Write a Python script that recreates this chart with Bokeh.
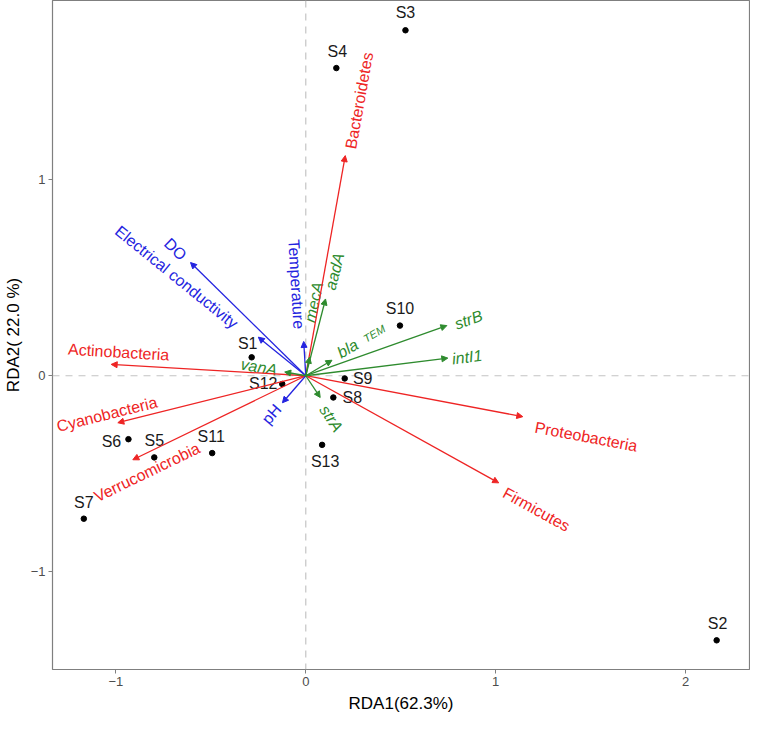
import math
from bokeh.plotting import figure
from bokeh.models import ColumnDataSource, Arrow, NormalHead, Range1d, FixedTicker, Span
from bokeh.embed import file_html
from bokeh.resources import INLINE
from bokeh.core.properties import value

# ---- data ----
samples = ["S1", "S2", "S3", "S4", "S5", "S6", "S7", "S8", "S9", "S10", "S11", "S12", "S13"]
sample_x = [-0.285, 2.164, 0.525, 0.161, -0.798, -0.934, -1.169, 0.145, 0.205, 0.496, -0.493, -0.124, 0.086]
sample_y = [0.094, -1.351, 1.764, 1.571, -0.417, -0.324, -0.730, -0.111, -0.014, 0.256, -0.395, -0.042, -0.353]

phyla = ["Actinobacteria", "Bacteroidetes", "Cyanobacteria", "Firmicutes", "Proteobacteria", "Verrucomicrobia"]
phyla_x = [-1.025, 0.208, -0.990, 1.016, 1.143, -0.911]
phyla_y = [0.058, 1.124, -0.240, -0.547, -0.209, -0.429]

genes = ["vanA", "strA", "mecA", "aadA", "strB", "intI1", "bla"]
genes_x = [-0.111, 0.076, 0.020, 0.104, 0.743, 0.748, 0.138]
genes_y = [0.019, -0.111, 0.095, 0.392, 0.256, 0.090, 0.079]

env = ["Temperature", "pH", "Electrical conductivity", "DO"]
env_x = [-0.011, -0.123, -0.250, -0.607]
env_y = [0.175, -0.138, 0.197, 0.578]

x_ticks = [-1, 0, 1, 2]
y_ticks = [-1, 0, 1]
x_title = "RDA1(62.3%)"
y_title = "RDA2( 22.0 %)"

# ---- label nudges (pixels, screen: +x right, +y down) ----
sample_dx = [-4, 1, 0, 1, 0, -17, 0, 19, 18, 0, -1, -19, 3]
sample_dy = [-14, -17, -18, -17, -17, 2, -16, 0, 0, -17, -17, 0, 17]
phyla_dx = [7.5, 14, -10.8, 37.7, 63.4, 14.2]
phyla_dy = [-12.3, -55, -8.5, 26.7, 20, 12.5]
genes_dx = [-25.8, 11, 4.2, 9, 21.6, 19.3, 15.7]
genes_dy = [-5, 21, -55, -27.5, -5.8, -1, -11.7]
env_dx = [-7.3, -11, -81.7, -15]
env_dy = [-57.3, 11.5, -60, -13.4]

RED = "#EE2424"
BLUE = "#2424E0"
GREEN = "#2E8B2E"
FONT = "Liberation Sans"

X0, X1 = -1.334, 2.337
Y0, Y1 = -1.50, 1.916
W, H = 750, 715
ML, MR, MT, MB = 46, 1, 0, 42
FW, FH = W - ML - MR, H - MT - MB
sx = FW / (X1 - X0)
sy = FH / (Y1 - Y0)

p = figure(width=W, height=H, output_backend="svg", toolbar_location=None,
           x_range=Range1d(X0, X1), y_range=Range1d(Y0, Y1),
           min_border_left=ML, min_border_right=MR, min_border_top=MT, min_border_bottom=MB)
p.background_fill_color = "white"
p.border_fill_color = "white"
p.outline_line_color = "#7F7F7F"
p.outline_line_width = 1.2
p.xgrid.visible = False
p.ygrid.visible = False

for ax, ticks, title in ((p.xaxis[0], x_ticks, x_title), (p.yaxis[0], y_ticks, y_title)):
    ax.ticker = FixedTicker(ticks=ticks)
    ax.major_label_overrides = {t: (("\u2212" + str(abs(t))) if t < 0 else str(t)) for t in ticks}
    ax.axis_line_color = None
    ax.major_tick_in = 0
    ax.major_tick_out = 4
    ax.major_tick_line_color = "#7F7F7F"
    ax.minor_tick_line_color = None
    ax.major_label_text_color = "#4D4D4D"
    ax.major_label_text_font = FONT
    ax.major_label_text_font_size = "13px"
    ax.major_label_standoff = 3
    ax.axis_label = title
    ax.axis_label_text_font = FONT
    ax.axis_label_text_font_size = "17px"
    ax.axis_label_text_font_style = "normal"
    ax.axis_label_text_color = "black"
    ax.axis_label_standoff = 5
p.yaxis[0].major_label_orientation = "horizontal"

for dim in ("width", "height"):
    p.add_layout(Span(location=0, dimension=dim, line_color="#C4C4C4", line_width=1.2,
                      line_dash="7 6", level="underlay"))


def screen_angle(dx, dy):
    a = math.atan2(dy * sy, dx * sx)
    if dx < 0:
        a += math.pi
    if a > math.pi:
        a -= 2 * math.pi
    return a


def draw_vectors(names, xs, ys, dxs, dys, color, style):
    src = ColumnDataSource(dict(x0=[0.0] * len(xs), y0=[0.0] * len(xs), x1=xs, y1=ys))
    p.add_layout(Arrow(source=src, x_start="x0", y_start="y0", x_end="x1", y_end="y1",
                       line_color=color, line_width=1.3,
                       end=NormalHead(size=6, fill_color=color, line_color=color, line_width=1)))
    lab = ColumnDataSource(dict(x=xs, y=ys, t=names,
                                a=[screen_angle(a, b) for a, b in zip(xs, ys)],
                                ox=dxs, oy=dys))
    p.text(x="x", y="y", text="t", angle="a", x_offset="ox", y_offset="oy", source=lab,
           text_align="center", text_baseline="middle", text_color=color,
           text_font=value(FONT), text_font_size="16px", text_font_style=style)
    return lab


draw_vectors(phyla, phyla_x, phyla_y, phyla_dx, phyla_dy, RED, "normal")
draw_vectors(env, env_x, env_y, env_dx, env_dy, BLUE, "normal")
draw_vectors(genes, genes_x, genes_y, genes_dx, genes_dy, GREEN, "italic")

# subscript of bla (TEM)
bi = genes.index("bla")
tem = ColumnDataSource(dict(x=[genes_x[bi]], y=[genes_y[bi]], t=["TEM"],
                            a=[screen_angle(genes_x[bi], genes_y[bi])], ox=[42.3], oy=[-26.7]))
p.text(x="x", y="y", text="t", angle="a", x_offset="ox", y_offset="oy", source=tem,
       text_align="center", text_baseline="middle", text_color=GREEN,
       text_font=value(FONT), text_font_size="11px", text_font_style="italic")

# sample points
ssrc = ColumnDataSource(dict(x=sample_x, y=sample_y, t=samples, ox=sample_dx, oy=sample_dy))
p.scatter(x="x", y="y", source=ssrc, size=5.5, color="black")
p.text(x="x", y="y", text="t", x_offset="ox", y_offset="oy", source=ssrc,
       text_align="center", text_baseline="middle", text_color="#1A1A1A",
       text_font=value(FONT), text_font_size="16px")

open("out.html", "w").write(file_html(p, INLINE))
